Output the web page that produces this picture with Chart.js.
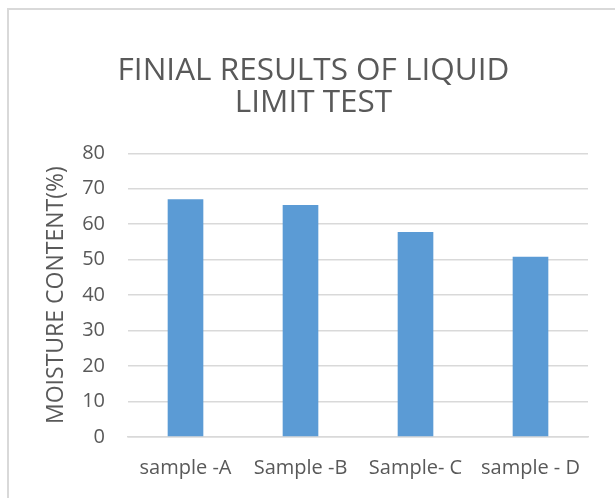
<!DOCTYPE html>
<html>
<head>
<meta charset="utf-8">
<script src="https://cdn.jsdelivr.net/npm/chart.js@4/dist/chart.umd.min.js"></script>
<style>
  html, body { margin: 0; padding: 0; background: #fff; }
  #wrap { position: relative; width: 615px; height: 498px; overflow: hidden; }
  #frame { position: absolute; left: 7px; top: 8px; width: 700px; height: 600px;
           border: 2px solid #d9d9d9; box-sizing: border-box; }
  canvas { position: absolute; left: 0; top: 0; }
</style>
</head>
<body>
<div id="wrap">
  <div id="frame"></div>
  <canvas id="chart" width="615" height="498"></canvas>
</div>
<script>
const categories = ['sample -A', 'Sample -B', 'Sample- C', 'sample - D'];
const moisture = [67, 65.4, 57.8, 50.8];
const titleLines = ['FINIAL RESULTS OF LIQUID', 'LIMIT TEST'];
const yAxisTitle = 'MOISTURE CONTENT(%)';

const textColor = '#595959';
const fontFamily = '"Open Sans", sans-serif';

new Chart(document.getElementById('chart'), {
    type: 'bar',
    data: {
        labels: categories,
        datasets: [{
            data: moisture,
            backgroundColor: '#5b9bd5',
            barPercentage: 0.31,
            categoryPercentage: 1
        }]
    },
    options: {
        responsive: false,
        animation: false,
        layout: { padding: { left: 39, right: 27, top: 55, bottom: 7 } },
        plugins: {
            legend: { display: false },
            tooltip: { enabled: false },
            title: {
                display: true,
                text: titleLines,
                color: textColor,
                font: { family: fontFamily, size: 31.5, weight: 'normal', lineHeight: 1.02 },
                padding: { top: 0, bottom: 34 }
            }
        },
        scales: {
            x: {
                grid: { display: false },
                border: { color: '#d9d9d9', width: 1.5 },
                ticks: { color: textColor, padding: 11, font: { family: fontFamily, size: 20 } }
            },
            y: {
                min: 0,
                max: 80,
                ticks: { stepSize: 10, color: textColor, padding: 23, font: { family: fontFamily, size: 20 } },
                grid: { color: '#d9d9d9', lineWidth: 1.5, drawTicks: false },
                border: { display: false },
                title: {
                    display: true,
                    text: yAxisTitle,
                    color: textColor,
                    font: { family: fontFamily, size: 23 },
                    padding: { top: 4, bottom: 0 }
                },
                afterFit: (scale) => { scale.width = 89; }
            }
        }
    }
});
</script>
</body>
</html>
